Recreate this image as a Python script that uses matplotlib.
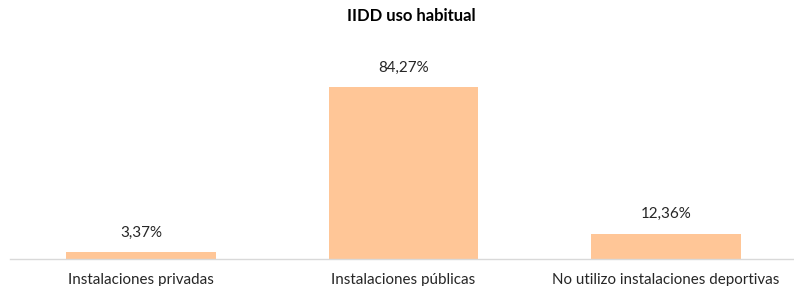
import matplotlib
matplotlib.use("Agg")
import matplotlib.pyplot as plt

categories = ["Instalaciones privadas", "Instalaciones públicas", "No utilizo instalaciones deportivas"]
values = [3.37, 84.27, 12.36]
labels = ["3,37%", "84,27%", "12,36%"]

plt.rcParams['font.family'] = ['Lato', 'DejaVu Sans']

fig = plt.figure(figsize=(7.94, 2.86), dpi=100)
# axes: left 10px, right 797px, bottom at y=259 (from top), height 204px
ax = fig.add_axes([10/794, (286-259)/286, 787/794, 204/286])
x = range(len(categories))
ax.bar(x, values, width=0.571, color="#FFC697")
for xi, v, lab in zip(x, values, labels):
    ax.annotate(lab, (xi, v), xytext=(0, 9), textcoords="offset points",
                ha="center", va="bottom", fontsize=10.9, color="#262626")
ax.set_xlim(-0.5, 2.5)
ax.set_ylim(0, 100)
ax.set_xticks(list(x))
ax.set_xticklabels(categories, fontsize=10.9, color="#262626")
ax.tick_params(axis="x", length=0, pad=10)
ax.set_yticks([])
for s in ["top", "right", "left"]:
    ax.spines[s].set_visible(False)
ax.spines["bottom"].set_color("#D9D9D9")
ax.spines["bottom"].set_linewidth(1)
fig.text(411/794, 1 - 16/286, "IIDD uso habitual", ha="center", va="center",
         fontsize=12, fontweight="bold", color="#000000")
fig.savefig("out.png", dpi=100)
